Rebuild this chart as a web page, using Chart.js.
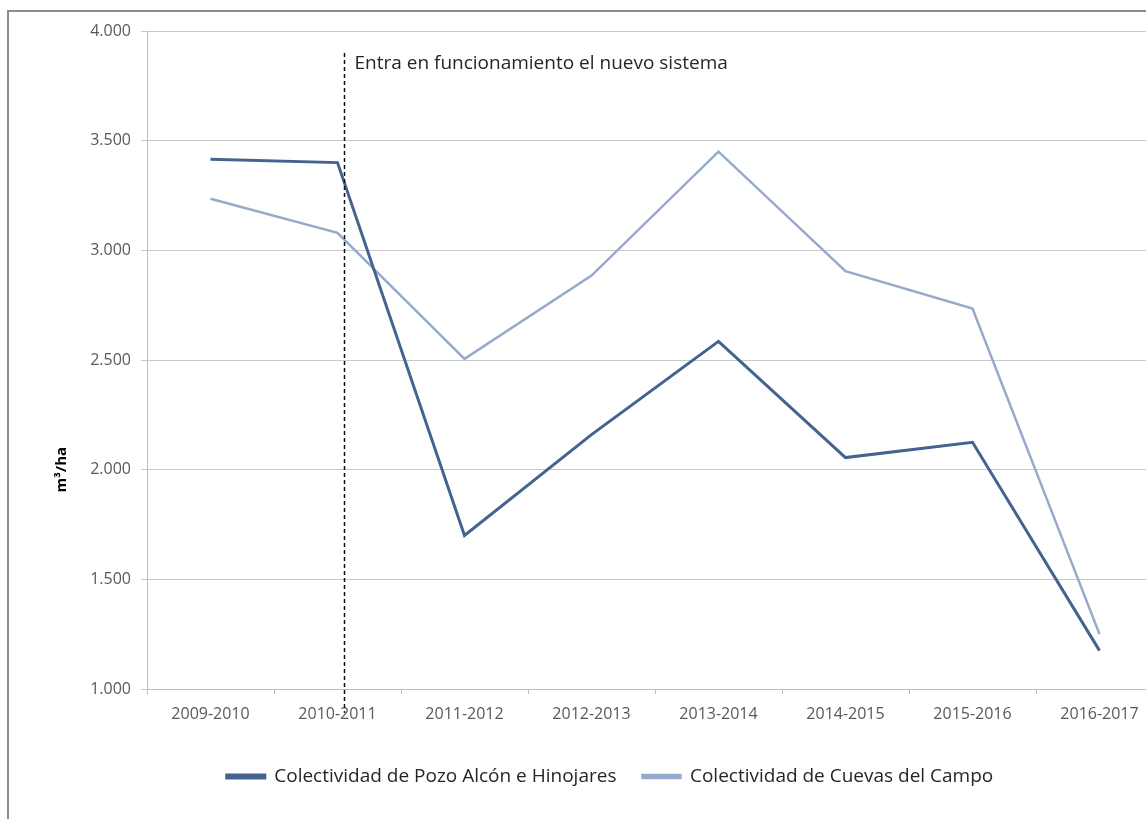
<!DOCTYPE html>
<html>
<head>
<meta charset="utf-8">
<title>Consumo de agua por hectárea</title>
<script src="https://cdn.jsdelivr.net/npm/chart.js@4"></script>
<style>
  html, body { margin: 0; padding: 0; background: #fff; overflow: hidden; }
  .frame { position: absolute; left: 7px; top: 10px; width: 1300px; height: 900px; border: 2px solid #8c8c8c; box-sizing: border-box; }
  .box { position: absolute; left: 0; top: 0; width: 1220px; height: 819px; }
</style>
</head>
<body>
<div class="frame"></div>
<div class="box"><canvas id="riegoChart"></canvas></div>
<script>
// Campañas de riego
const campanas = ['2009-2010', '2010-2011', '2011-2012', '2012-2013', '2013-2014', '2014-2015', '2015-2016', '2016-2017'];

// Consumo en m3/ha de cada colectividad
const pozoAlcon = [3415, 3400, 1700, 2160, 2585, 2055, 2125, 1175];
const cuevasCampo = [3235, 3080, 2505, 2885, 3450, 2905, 2735, 1250];

const nombrePozo = 'Colectividad de Pozo Alcón e Hinojares';
const nombreCuevas = 'Colectividad de Cuevas del Campo';

// Línea vertical: el nuevo sistema entra en 2010-2011
const marcaPos = 1.05;
const marcaTop = 3900;
const marcaTexto = 'Entra en funcionamiento el nuevo sistema';
const marcaTextoY = 3850;

const tituloY = 'm³/ha';
const tituloYValor = 2000;

const colorPozo = '#44638f';
const colorCuevas = '#97aacb';

const fuente = "'Open Sans', 'Noto Sans', sans-serif";

const marcaPlugin = {
    id: 'marca',
    afterDatasetsDraw(chart) {
        const ctx = chart.ctx;
        const x = chart.scales.x;
        const y = chart.scales.y;
        const px = Math.round(x.getPixelForValue(marcaPos)) + 0.5;
        ctx.save();
        ctx.strokeStyle = '#111';
        ctx.lineWidth = 1.5;
        ctx.setLineDash([4, 3]);
        ctx.beginPath();
        ctx.moveTo(px, y.getPixelForValue(marcaTop));
        ctx.lineTo(px, y.bottom + 24);
        ctx.stroke();
        ctx.setLineDash([]);

        ctx.fillStyle = '#262626';
        ctx.font = '19px ' + fuente;
        ctx.textAlign = 'left';
        ctx.textBaseline = 'middle';
        ctx.fillText(marcaTexto, px + 10, y.getPixelForValue(marcaTextoY));

        // título del eje vertical
        ctx.translate(62, y.getPixelForValue(tituloYValor));
        ctx.rotate(-Math.PI / 2);
        ctx.fillStyle = '#000';
        ctx.font = 'bold 15px ' + fuente;
        ctx.textAlign = 'center';
        ctx.fillText(tituloY, 0, 0);
        ctx.restore();
    }
};

const data = {
    labels: campanas,
    datasets: [{
        label: nombrePozo,
        data: pozoAlcon,
        borderColor: colorPozo,
        backgroundColor: colorPozo,
        borderWidth: 3,
        pointRadius: 0,
        tension: 0
    }, {
        label: nombreCuevas,
        data: cuevasCampo,
        borderColor: colorCuevas,
        backgroundColor: colorCuevas,
        borderWidth: 2.5,
        pointRadius: 0,
        tension: 0
    }]
};

const config = {
    type: 'line',
    data: data,
    options: {
        responsive: true,
        maintainAspectRatio: false,
        animation: false,
        layout: {
            padding: { top: 31, right: 57, bottom: 23, left: 57 }
        },
        plugins: {
            tooltip: { enabled: false },
            legend: {
                position: 'bottom',
                labels: {
                    boxWidth: 38,
                    boxHeight: 3,
                    padding: 26,
                    color: '#262626',
                    font: { family: fuente, size: 19 }
                }
            }
        },
        scales: {
            x: {
                offset: true,
                grid: { offset: true, drawOnChartArea: false, drawTicks: true, tickLength: 5, color: '#bfbfbf' },
                border: { color: '#bfbfbf' },
                ticks: { color: '#595959', padding: 11, maxRotation: 0, font: { family: fuente, size: 16 } },
                afterFit(scale) { scale.height = 52; }
            },
            y: {
                min: 1000,
                max: 4000,
                grid: { color: '#c8c8c8', tickLength: 6 },
                border: { color: '#bfbfbf' },
                ticks: {
                    stepSize: 500,
                    color: '#595959',
                    padding: 10,
                    font: { family: fuente, size: 16 },
                    callback: v => (v / 1000).toFixed(3)
                },
                afterFit(scale) { scale.width = 90; }
            }
        }
    },
    plugins: [marcaPlugin]
};

const ctx = document.getElementById('riegoChart').getContext('2d');
new Chart(ctx, config);
</script>
</body>
</html>
